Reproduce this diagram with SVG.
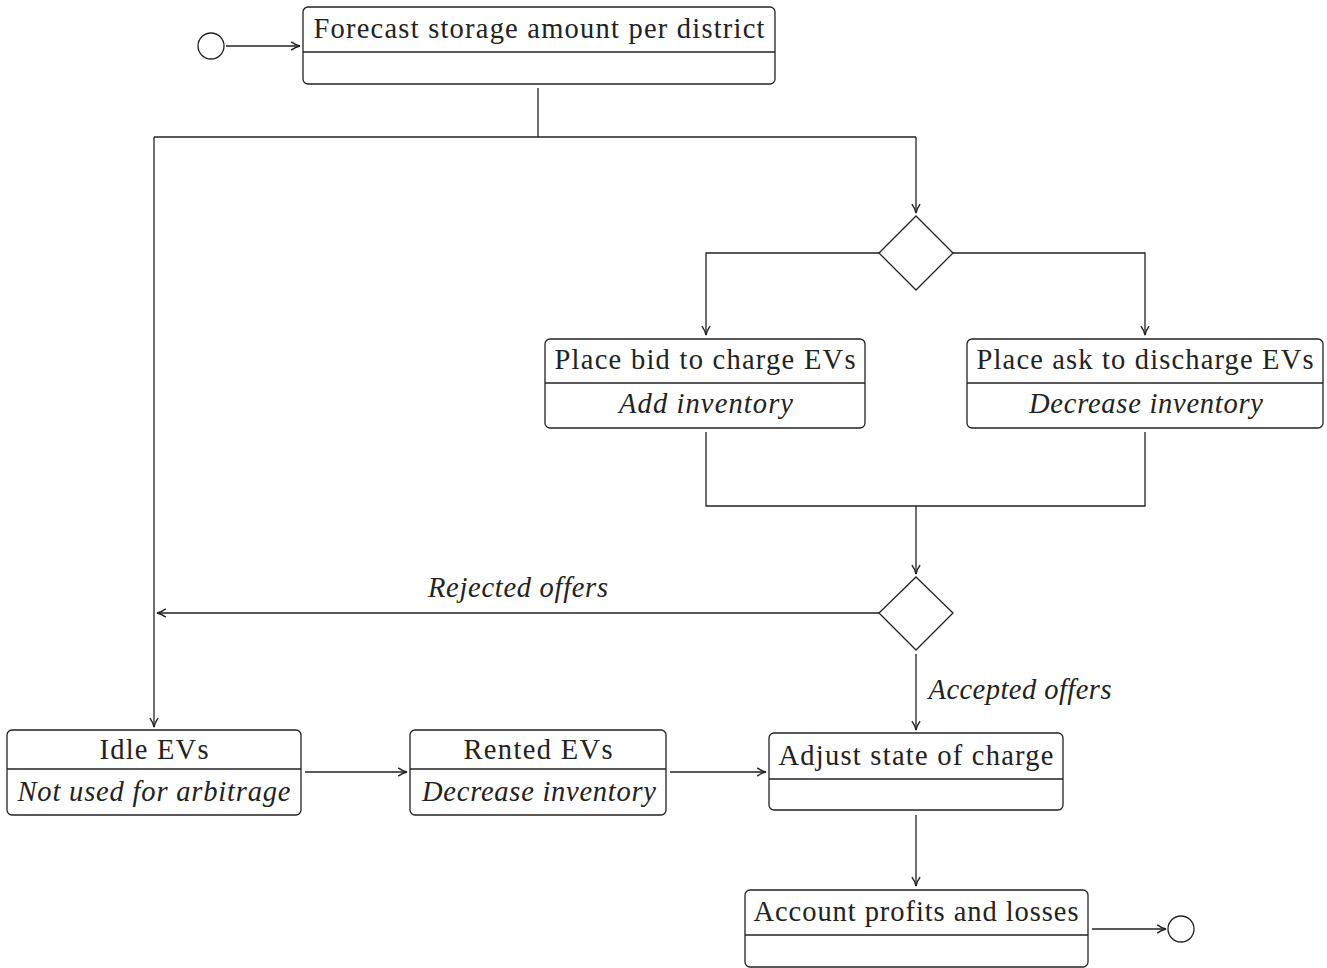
<svg xmlns="http://www.w3.org/2000/svg" width="1327" height="968" viewBox="0 0 1327 968">
<defs>
<marker id="arr" viewBox="0 0 10 10" refX="9" refY="5" markerWidth="11" markerHeight="11" markerUnits="userSpaceOnUse" orient="auto">
<path d="M1,1.3 Q5,4.2 9,5 Q5,5.8 1,8.7" fill="none" stroke="#222" stroke-width="1.3"/>
</marker>
</defs>
<style>
.box{fill:#fff;stroke:#222;stroke-width:1.3}
.div{stroke:#222;stroke-width:1.3}
.ln{fill:none;stroke:#222;stroke-width:1.3}
.t{font-family:"Liberation Serif",serif;font-size:28.5px;fill:#222;text-anchor:middle}
.i{font-style:italic}
</style>
<rect width="1327" height="968" fill="#fff"/>
<g id="connectors">
<line class="ln" x1="226" y1="46" x2="300" y2="46" marker-end="url(#arr)"/>
<polyline class="ln" points="538,88 538,137"/>
<polyline class="ln" points="154,137 916,137"/>
<line class="ln" x1="154" y1="137" x2="154" y2="727" marker-end="url(#arr)"/>
<line class="ln" x1="916" y1="137" x2="916" y2="213" marker-end="url(#arr)"/>
<polyline class="ln" points="879,253 706,253 706,335" marker-end="url(#arr)"/>
<polyline class="ln" points="953,253 1145,253 1145,335" marker-end="url(#arr)"/>
<polyline class="ln" points="706,432 706,506 1145,506 1145,432"/>
<line class="ln" x1="916" y1="506" x2="916" y2="574" marker-end="url(#arr)"/>
<line class="ln" x1="879" y1="613" x2="157" y2="613" marker-end="url(#arr)"/>
<text class="t i" x="518" y="597" textLength="180">Rejected offers</text>
<line class="ln" x1="916" y1="654" x2="916" y2="730" marker-end="url(#arr)"/>
<text class="t i" x="1020" y="699" textLength="183">Accepted offers</text>
<line class="ln" x1="305" y1="772" x2="407" y2="772" marker-end="url(#arr)"/>
<line class="ln" x1="670" y1="772" x2="766" y2="772" marker-end="url(#arr)"/>
<line class="ln" x1="916" y1="815" x2="916" y2="886" marker-end="url(#arr)"/>
<line class="ln" x1="1092" y1="929" x2="1166" y2="929" marker-end="url(#arr)"/>
</g>
<g id="start"><circle class="box" cx="211" cy="46" r="13"/></g>
<g id="forecast">
<rect class="box" x="303" y="7" width="472" height="77" rx="5"/>
<line class="div" x1="303" y1="52" x2="775" y2="52"/>
<text class="t" x="539" y="38" textLength="451">Forecast storage amount per district</text>
</g>
<g id="decision1"><polygon class="box" points="916,216 953,253 916,290 879,253"/></g>
<g id="bid">
<rect class="box" x="545" y="339" width="320" height="89" rx="5"/>
<line class="div" x1="545" y1="383" x2="865" y2="383"/>
<text class="t" x="705" y="369" textLength="301">Place bid to charge EVs</text>
<text class="t i" x="706" y="413" textLength="174">Add inventory</text>
</g>
<g id="ask">
<rect class="box" x="967" y="339" width="356" height="89" rx="5"/>
<line class="div" x1="967" y1="383" x2="1323" y2="383"/>
<text class="t" x="1145" y="369" textLength="337">Place ask to discharge EVs</text>
<text class="t i" x="1146" y="413" textLength="234">Decrease inventory</text>
</g>
<g id="decision2"><polygon class="box" points="916,577 953,613 916,650 879,613"/></g>
<g id="idle">
<rect class="box" x="7" y="730" width="294" height="85" rx="5"/>
<line class="div" x1="7" y1="769" x2="301" y2="769"/>
<text class="t" x="154" y="759" textLength="109">Idle EVs</text>
<text class="t i" x="154" y="801" textLength="273">Not used for arbitrage</text>
</g>
<g id="rented">
<rect class="box" x="410" y="730" width="256" height="85" rx="5"/>
<line class="div" x1="410" y1="769" x2="666" y2="769"/>
<text class="t" x="538" y="759" textLength="149">Rented EVs</text>
<text class="t i" x="539" y="801" textLength="234">Decrease inventory</text>
</g>
<g id="adjust">
<rect class="box" x="769" y="733" width="294" height="77" rx="5"/>
<line class="div" x1="769" y1="779" x2="1063" y2="779"/>
<text class="t" x="916" y="765" textLength="275">Adjust state of charge</text>
</g>
<g id="account">
<rect class="box" x="745" y="890" width="343" height="77" rx="5"/>
<line class="div" x1="745" y1="935" x2="1088" y2="935"/>
<text class="t" x="916" y="921" textLength="325">Account profits and losses</text>
</g>
<g id="end"><circle class="box" cx="1181" cy="929" r="13"/></g>
</svg>
